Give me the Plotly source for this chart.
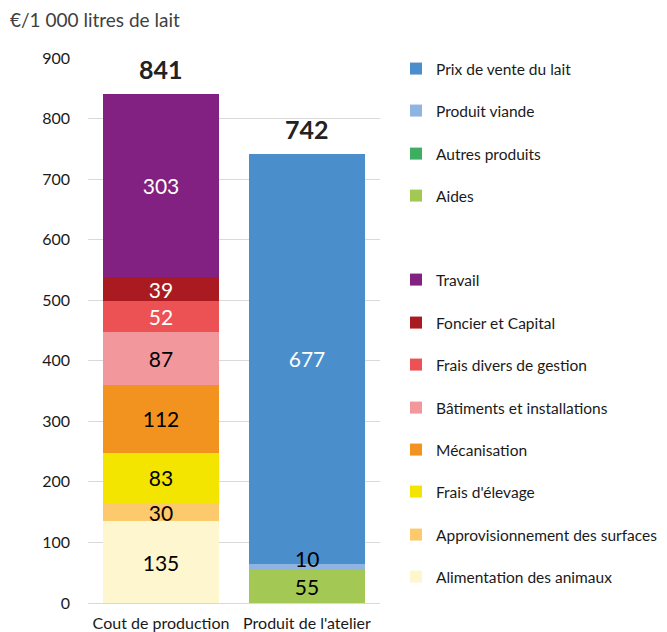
import plotly.graph_objects as go

categories = ["Cout de production", "Produit de l'atelier"]

# Cost components (stacked bottom -> top on "Cout de production")
cost_names = ["Alimentation des animaux", "Approvisionnement des surfaces", "Frais d'élevage",
              "Mécanisation", "Bâtiments et installations", "Frais divers de gestion",
              "Foncier et Capital", "Travail"]
cost_values = [135, 30, 83, 112, 87, 52, 39, 303]
cost_colors = ["#fdf6cf", "#fcc96c", "#f4e500", "#f3931f", "#f2979b", "#ec5254", "#a91b21", "#822181"]
cost_text_colors = ["black", "black", "black", "black", "black", "white", "white", "white"]

# Product components (stacked bottom -> top on "Produit de l'atelier")
prod_names = ["Aides", "Autres produits", "Produit viande", "Prix de vente du lait"]
prod_values = [55, 0, 10, 677]
prod_colors = ["#a3c853", "#3fae62", "#8fb4e2", "#4a8fcc"]
prod_text_colors = ["black", "black", "black", "white"]

totals = [sum(cost_values), sum(prod_values)]

# legend order top -> bottom (None = empty slot)
legend_order = ["Prix de vente du lait", "Produit viande", "Autres produits", "Aides", None,
                "Travail", "Foncier et Capital", "Frais divers de gestion", "Bâtiments et installations",
                "Mécanisation", "Frais d'élevage", "Approvisionnement des surfaces", "Alimentation des animaux"]

FONT = "Lato"
TXT = "#1a1a1a"
OFF = 8  # page body margin offset
W, H = 667, 632
L, R, T, B = 88 - OFF, 287 + OFF, 58 - OFF, 29 + OFF
plot_h = H - T - B
plot_w = W - L - R

# labels drawn as annotations (thin segments) with a small upward shift in pixels
label_as_annotation = {"Produit viande": 8}

fig = go.Figure()

legend_ids = {}
k = 0
for nm in legend_order:
    if nm is None:
        continue
    k += 1
    legend_ids[nm] = "legend" if k == 1 else f"legend{k}"

def add_stack(cat, names, values, colors, tcolors):
    base = 0
    for name, val, color, tcolor in zip(names, values, colors, tcolors):
        show_inside = val > 0 and name not in label_as_annotation
        fig.add_trace(go.Bar(
            x=[cat], y=[val], name=name,
            marker=dict(color=color, line=dict(width=0)),
            text=[str(val) if show_inside else ""],
            texttemplate="%{text}",
            textposition="inside", insidetextanchor="middle", textangle=0,
            textfont=dict(family=FONT, size=21, color=tcolor),
            legend=legend_ids[name],
            hoverinfo="name+y",
        ))
        if val > 0 and name in label_as_annotation:
            fig.add_annotation(x=cat, y=base + val / 2, text=str(val), showarrow=False,
                               yshift=label_as_annotation[name],
                               font=dict(family=FONT, size=21, color=tcolor))
        base += val

add_stack(categories[0], cost_names, cost_values, cost_colors, cost_text_colors)
add_stack(categories[1], prod_names, prod_values, prod_colors, prod_text_colors)

# totals above bars
for cat, tot in zip(categories, totals):
    fig.add_annotation(x=cat, y=tot, text=f"<b>{tot}</b>", showarrow=False,
                       yshift=25, font=dict(family=FONT, size=25, color="#222222"))

# legends (one per entry to reproduce spacing incl. gap)
slot_px = [69, 111, 154, 196, 238, 280, 323, 365, 408, 450, 492, 535, 577]
legend_layouts = {}
for nm, py in zip(legend_order, slot_px):
    if nm is None:
        continue
    lid = legend_ids[nm]
    legend_layouts[lid] = dict(
        x=(396 - OFF - L) / plot_w, xanchor="left",
        y=(H - B - (py - OFF)) / plot_h, yanchor="middle",
        bgcolor="rgba(0,0,0,0)", borderwidth=0,
        font=dict(family=FONT, size=15.5, color=TXT),
        itemclick=False, itemdoubleclick=False,
    )

fig.update_layout(
    width=W, height=H,
    margin=dict(l=L, r=R, t=T, b=B, autoexpand=False),
    barmode="stack", bargap=0.2,
    plot_bgcolor="white", paper_bgcolor="white",
    showlegend=True,
    uniformtext=dict(mode="show", minsize=21),
    title=dict(text="€/1 000 litres de lait", x=(10 - OFF) / W, xref="container", xanchor="left",
               y=1 - (20 - OFF) / H, yref="container", yanchor="middle",
               font=dict(family=FONT, size=19, color="#404040")),
    font=dict(family=FONT, size=16, color=TXT),
    xaxis=dict(showgrid=False, showline=False, ticks="", ticklabelstandoff=9, automargin=False,
               tickfont=dict(family=FONT, size=16, color=TXT)),
    yaxis=dict(range=[0, 900], dtick=100, showgrid=True, gridcolor="#d9d9d9", gridwidth=1,
               zeroline=True, zerolinecolor="#d9d9d9", zerolinewidth=1, showline=False, ticks="",
               ticklabelstandoff=17, automargin=False, tickfont=dict(family=FONT, size=16, color=TXT)),
    **legend_layouts,
)

fig.write_html("out.html")
